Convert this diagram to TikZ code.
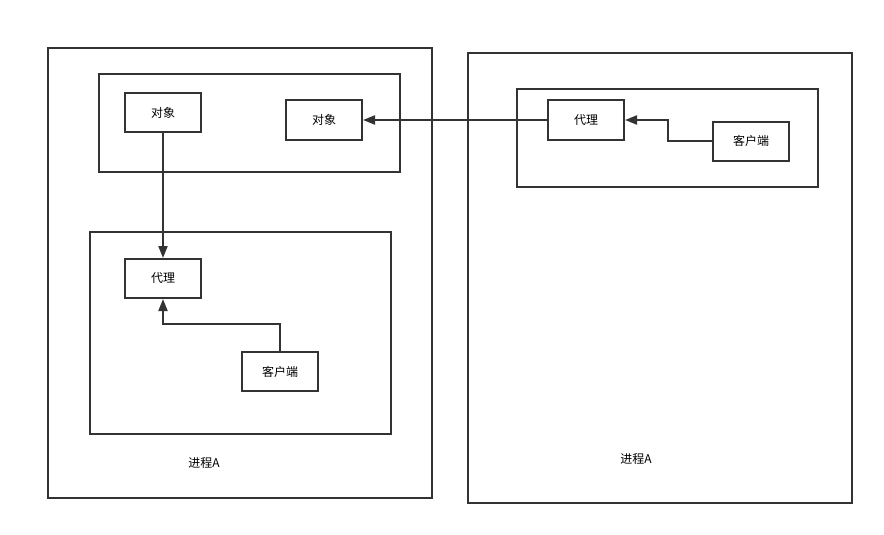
\documentclass[tikz,border=0pt]{standalone}
\usepackage{fontspec}
\setmainfont{Noto Sans CJK SC}
\usetikzlibrary{arrows.meta}

\tikzset{
  box/.style={draw=black!80, line width=2pt, minimum width=76pt, minimum height=39pt, inner sep=0pt},
  frame/.style={draw=black!80, line width=2pt, inner sep=0pt},
  arr/.style={draw=black!80, line width=2pt, -{Triangle[length=12pt,width=9pt]}},
}

\begin{document}
\begin{tikzpicture}[x=1pt, y=-1pt, font=\fontsize{12}{14}\selectfont]
  \useasboundingbox (0,0) rectangle (884,535);

  % processes
  \node[frame, minimum width=384pt, minimum height=450pt] (proc-l) at (240,273) {};
  \node[frame, minimum width=384pt, minimum height=450pt] (proc-r) at (660,278) {};
  \node (name-l) at (204,463) {进程A};
  \node (name-r) at (636,459) {进程A};

  % groups
  \node[frame, minimum width=301pt, minimum height=98pt] (grp-lt) at (249.5,123) {};
  \node[frame, minimum width=301pt, minimum height=202pt] (grp-lb) at (240.5,333) {};
  \node[frame, minimum width=301pt, minimum height=98pt] (grp-r) at (667.5,138) {};

  \node[box] (obj-1) at (163,112.5) {对象};
  \node[box] (obj-2) at (324,120) {对象};
  \node[box] (proxy-l) at (163,278.5) {代理};
  \node[box] (client-l) at (280,371.5) {客户端};
  \node[box] (proxy-r) at (586,120) {代理};
  \node[box] (client-r) at (751,141) {客户端};

  \draw[arr] (obj-1) -- (proxy-l);
  \draw[arr] (client-l.north) -- ++(0,-27.5) -| (proxy-l.south);
  \draw[arr] (proxy-r.west) -- (obj-2.east);
  \draw[arr] (client-r.west) -- ++(-44,0) |- (proxy-r.east);

\end{tikzpicture}
\end{document}
